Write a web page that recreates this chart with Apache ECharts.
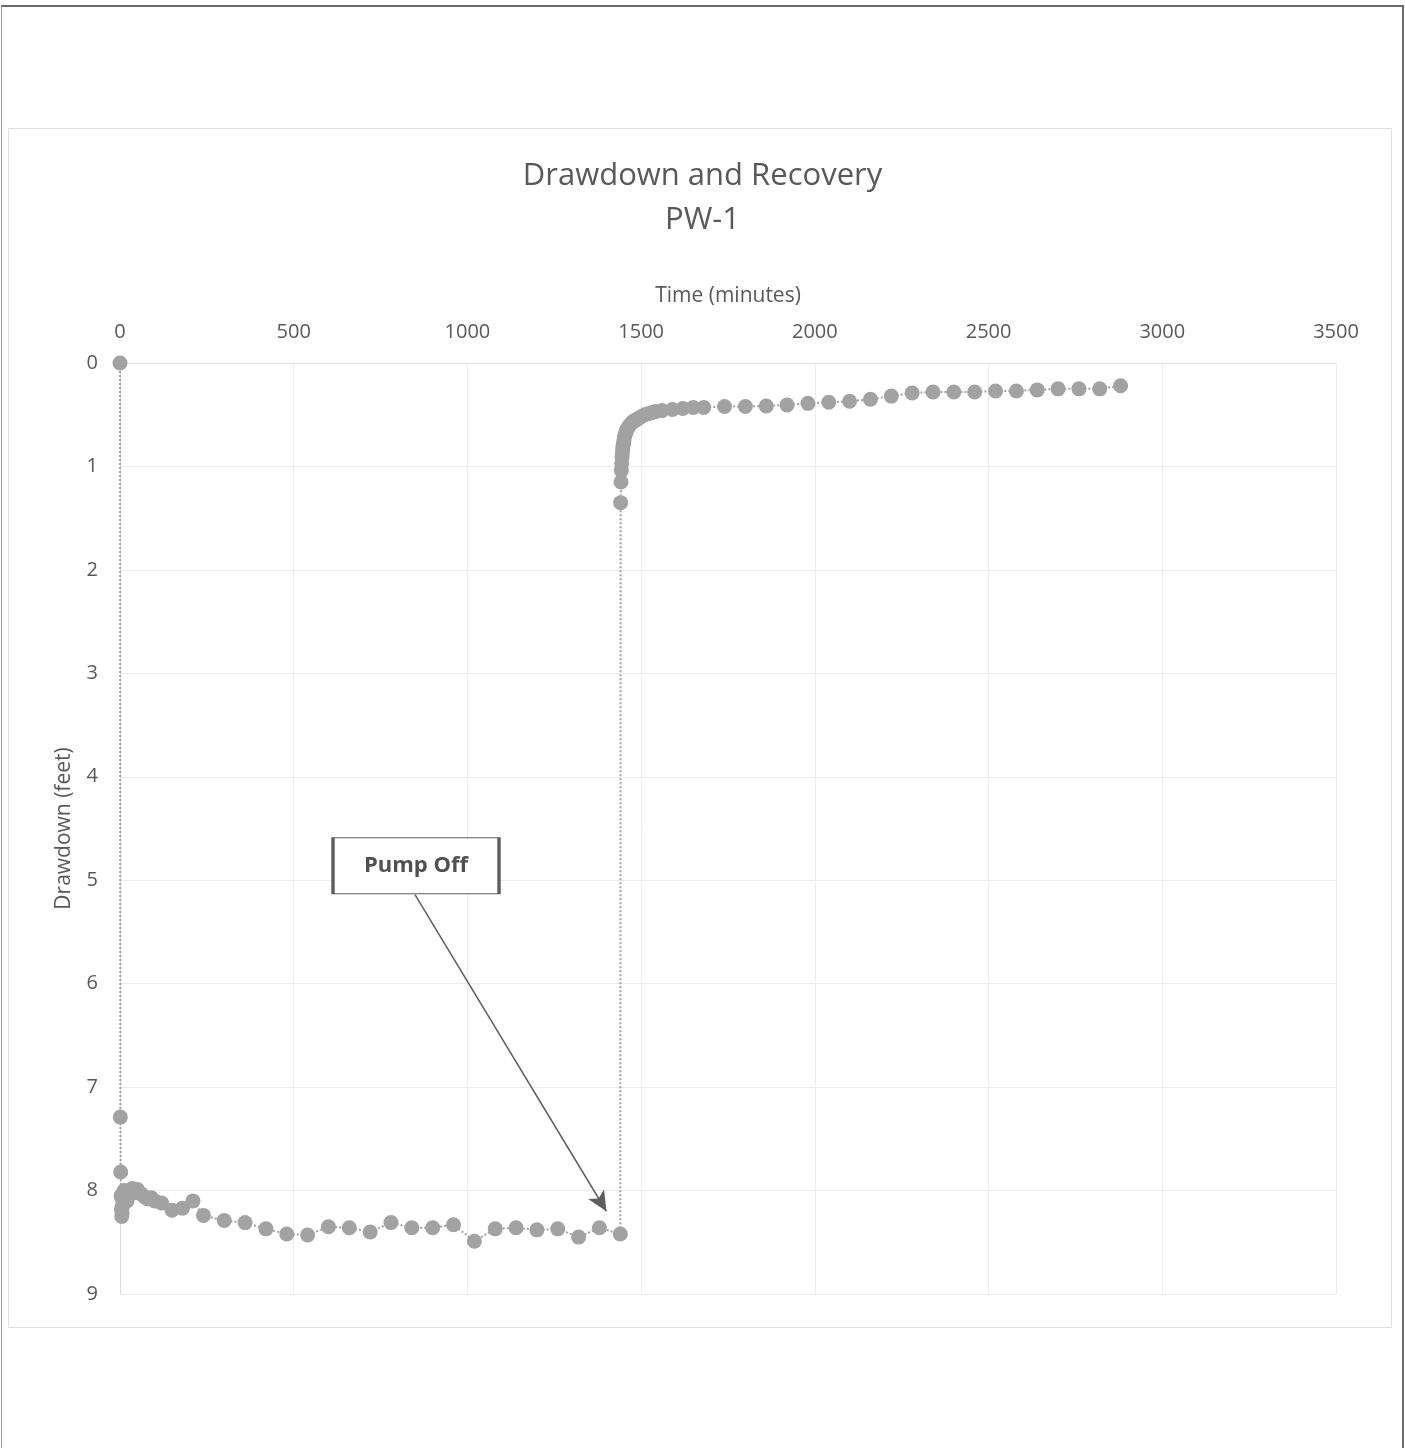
<!DOCTYPE html>
<html>
<head>
<meta charset="utf-8">
<script src="https://cdn.jsdelivr.net/npm/echarts@6/dist/echarts.min.js"></script>
<style>
  html, body { margin: 0; padding: 0; background: #ffffff; }
  #wrap { position: relative; width: 1405px; height: 1448px; overflow: hidden; }
  #page { position: absolute; left: 1px; top: 5px; width: 1400px; height: 1460px;
          border-top: 2px solid #6b6b6b; border-left: 1px solid #a0a0a0; border-right: 2px solid #6b6b6b; }
  #area { position: absolute; left: 8px; top: 128px; width: 1382px; height: 1198px;
          border: 1px solid #e0e0e0; }
  #chart { position: absolute; left: 0; top: 0; width: 1405px; height: 1448px; }
</style>
</head>
<body>
<div id="wrap">
  <div id="page"></div>
  <div id="area"></div>
  <div id="chart"></div>
</div>
<script>
// ---- Data ----
// Pumping phase: elapsed time (minutes) and drawdown (feet)
const pumpTimes = [0, 1, 2, 3, 4, 5, 6, 7, 8, 9, 10, 12, 14, 16, 18, 20, 25, 30, 35, 40, 45, 50, 60, 70, 80, 90, 100, 120, 150, 180, 210, 240,
  300, 360, 420, 480, 540, 600, 660, 720, 780, 840, 900, 960, 1020, 1080, 1140, 1200, 1260, 1320, 1380, 1440];
const pumpDrawdown = [0, 7.29, 7.82, 8.05, 8.18, 8.25, 8.22, 8.15, 8.10, 8.05, 8.02, 8.00, 8.02, 8.05, 8.08, 8.10, 8.05, 8.00, 7.98, 8.00, 8.02, 7.99, 8.03, 8.06, 8.08, 8.07, 8.10, 8.12, 8.19, 8.17, 8.10, 8.24,
  8.29, 8.31, 8.37, 8.42, 8.43, 8.35, 8.36, 8.40, 8.31, 8.36, 8.36, 8.33, 8.49, 8.37, 8.36, 8.38, 8.37, 8.45, 8.36, 8.42];
// Recovery phase: elapsed time (minutes) and residual drawdown (feet)
const recoveryTimes = [1441, 1442, 1443, 1444, 1445, 1446, 1447, 1448, 1449, 1450, 1452, 1454, 1456, 1458, 1460, 1465, 1470, 1475, 1480, 1485, 1490,
  1500, 1510, 1520, 1530, 1540, 1560, 1590, 1620, 1650, 1680,
  1740, 1800, 1860, 1920, 1980, 2040, 2100, 2160, 2220, 2280, 2340, 2400, 2460, 2520, 2580, 2640, 2700, 2760, 2820, 2880];
const recoveryDrawdown = [1.35, 1.15, 1.04, 0.97, 0.91, 0.87, 0.83, 0.80, 0.78, 0.76, 0.72, 0.69, 0.67, 0.65, 0.64, 0.61, 0.59, 0.57, 0.56, 0.55, 0.54,
  0.52, 0.50, 0.49, 0.48, 0.47, 0.46, 0.45, 0.44, 0.43, 0.43,
  0.42, 0.42, 0.415, 0.405, 0.39, 0.38, 0.37, 0.35, 0.32, 0.29, 0.28, 0.28, 0.28, 0.27, 0.27, 0.26, 0.25, 0.25, 0.25, 0.22];
// Axis ticks
const xTicks = [0, 500, 1000, 1500, 2000, 2500, 3000, 3500];
const yTicks = [0, 1, 2, 3, 4, 5, 6, 7, 8, 9];
// Annotation: "Pump Off" callout (data coordinates)
const calloutText = 'Pump Off';
const calloutAt = [852, 4.86];
const arrowFrom = [849, 5.14];
const arrowTo = [1400, 8.20];

// ---- Build series data ----
const allTimes = pumpTimes.concat(recoveryTimes);
const allDrawdown = pumpDrawdown.concat(recoveryDrawdown);
const points = allTimes.map((t, i) => [t, allDrawdown[i]]);

const FONT = '"Open Sans", Lato, sans-serif';
const TXT = '#595959';

const chart = echarts.init(document.getElementById('chart'), null, { renderer: 'canvas' });
chart.setOption({
  backgroundColor: 'transparent',
  animation: false,
  title: {
    text: 'Drawdown and Recovery\nPW-1',
    left: 'center',
    top: 149,
    textStyle: { fontFamily: FONT, fontSize: 31, fontWeight: 'normal', color: TXT, lineHeight: 44 }
  },
  grid: { left: 120, top: 363, right: 69, bottom: 154, containLabel: false },
  xAxis: {
    type: 'value',
    position: 'top',
    min: xTicks[0],
    max: xTicks[xTicks.length - 1],
    interval: xTicks[1] - xTicks[0],
    name: 'Time (minutes)',
    nameLocation: 'middle',
    nameGap: 56,
    nameTextStyle: { fontFamily: FONT, fontSize: 21, color: TXT },
    axisLine: { show: true, lineStyle: { color: '#e3e3e3', width: 1 } },
    axisTick: { show: false },
    axisLabel: { fontFamily: FONT, fontSize: 20, color: TXT, margin: 21, formatter: v => String(v) },
    splitLine: { show: true, lineStyle: { color: '#ececec', width: 1 } }
  },
  yAxis: {
    type: 'value',
    inverse: true,
    min: yTicks[0],
    max: yTicks[yTicks.length - 1],
    interval: yTicks[1] - yTicks[0],
    name: 'Drawdown (feet)',
    nameLocation: 'middle',
    nameGap: 45,
    nameRotate: 90,
    nameTextStyle: { fontFamily: FONT, fontSize: 21, color: TXT },
    axisLine: { show: true, lineStyle: { color: '#dcdcdc', width: 1 } },
    axisTick: { show: false },
    axisLabel: { fontFamily: FONT, fontSize: 20, color: TXT, margin: 22, formatter: v => String(v) },
    splitLine: { show: true, lineStyle: { color: '#ececec', width: 1 } }
  },
  series: [{
    type: 'line',
    data: points,
    symbol: 'circle',
    symbolSize: 15,
    showSymbol: true,
    itemStyle: { color: '#a2a2a2' },
    lineStyle: { color: '#a2a2a2', width: 2, type: 'dotted' },
    emphasis: { disabled: true },
    silent: true,
    markLine: {
      silent: true,
      symbol: ['none', 'arrow'],
      symbolSize: [14, 20],
      label: { show: false },
      lineStyle: { color: '#5e5e5e', width: 1.5, type: 'solid' },
      emphasis: { disabled: true },
      data: [[{ coord: arrowFrom }, { coord: arrowTo }]]
    },
    markPoint: {
      silent: true,
      symbol: 'rect',
      symbolSize: [166, 56],
      itemStyle: { color: '#ffffff', borderColor: '#5e5e5e', borderWidth: 2 },
      label: { show: true, formatter: calloutText, fontFamily: FONT, fontSize: 22, fontWeight: 'bold', color: '#505050' },
      emphasis: { disabled: true },
      data: [{ coord: calloutAt }]
    }
  }]
});
</script>
</body>
</html>
